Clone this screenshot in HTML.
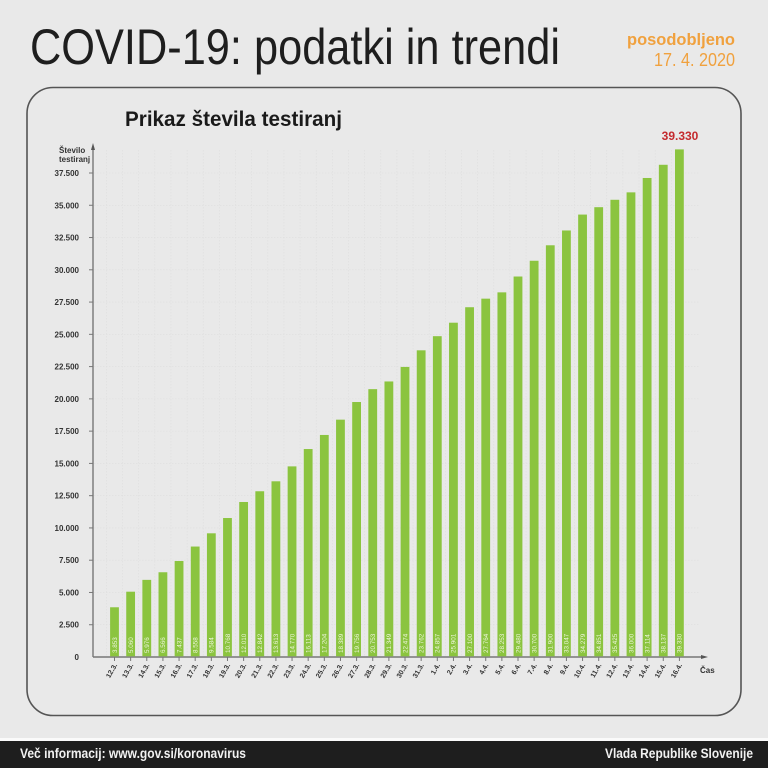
<!DOCTYPE html>
<html>
<head>
<meta charset="utf-8">
<style>
html,body{margin:0;padding:0;background:#e9e9e9;}
svg{display:block;}
text{font-family:"Liberation Sans",sans-serif;}
</style>
</head>
<body>
<svg width="768" height="768" viewBox="0 0 768 768" xmlns="http://www.w3.org/2000/svg">
<rect x="0" y="0" width="768" height="768" fill="#e9e9e9"/>
<!-- header -->
<text x="30" y="64" font-size="50" fill="#1e1e1e" textLength="530" lengthAdjust="spacingAndGlyphs">COVID-19: podatki in trendi</text>
<text x="735" y="45" font-size="17" font-weight="bold" fill="#f0a13e" text-anchor="end" textLength="108" lengthAdjust="spacingAndGlyphs">posodobljeno</text>
<text x="735" y="66" font-size="18" fill="#f0a13e" text-anchor="end" textLength="81" lengthAdjust="spacingAndGlyphs">17. 4. 2020</text>
<!-- panel -->
<rect x="27" y="87.5" width="714" height="628" rx="26" ry="26" fill="#e9e9e9" stroke="#555" stroke-width="1.6"/>
<text x="125" y="126" font-size="21" font-weight="bold" fill="#1a1a1a" textLength="217" lengthAdjust="spacingAndGlyphs">Prikaz števila testiranj</text>
<!-- grid -->
<g stroke="#dedede" stroke-width="0.6" stroke-dasharray="1.5,1.5" id="grid"></g>
<!-- axes -->
<line x1="93" y1="147" x2="93" y2="657" stroke="#777" stroke-width="1.4"/>
<polygon points="93,143 91,150 95,150" fill="#555"/>
<line x1="93" y1="657" x2="703" y2="657" stroke="#777" stroke-width="1.4"/>
<polygon points="708,657 701,655 701,659" fill="#555"/>
<text x="59" y="153" font-size="8" font-weight="bold" fill="#333">Število</text>
<text x="59" y="162" font-size="8" font-weight="bold" fill="#333">testiranj</text>
<text x="700" y="673" font-size="8" font-weight="bold" fill="#333">Čas</text>
<g id="yt" font-size="8" font-weight="bold" fill="#333" text-anchor="end"></g>
<g id="bars"></g>
<text x="680" y="140" font-size="12" font-weight="bold" fill="#c42a2e" text-anchor="middle">39.330</text>
<!-- footer -->
<rect x="0" y="738" width="768" height="3" fill="#fafafa"/>
<rect x="0" y="741" width="768" height="27" fill="#1e1e1e"/>
<text x="20" y="758" font-size="13.5" font-weight="bold" fill="#f2f2f2" textLength="226" lengthAdjust="spacingAndGlyphs">Več informacij: www.gov.si/koronavirus</text>
<text x="753" y="758" font-size="13.5" font-weight="bold" fill="#f2f2f2" text-anchor="end" textLength="148" lengthAdjust="spacingAndGlyphs">Vlada Republike Slovenije</text>
<script>
(function(){
var NS="http://www.w3.org/2000/svg";
function el(t,a,p,txt){var e=document.createElementNS(NS,t);for(var k in a)e.setAttribute(k,a[k]);if(txt!==undefined)e.textContent=txt;p.appendChild(e);return e;}
var k=484/37500, y0=657;
var grid=document.getElementById('grid');
for(var v=2500;v<=40000;v+=2500){var y=y0-v*k;if(y<145)break;el('line',{x1:94,y1:y,x2:700,y2:y},grid);}
for(var i=0;i<36;i++){var x=106.4+16.14*i;el('line',{x1:x,y1:150,x2:x,y2:656},grid);}
var yt=document.getElementById('yt');
for(var v=0;v<=37500;v+=2500){var y=y0-v*k;
 var s=v===0?"0":(Math.floor(v/1000)+"."+("00"+(v%1000)).slice(-3));
 el('text',{x:79,y:y+3},yt,s);
 if(v>0) el('line',{x1:89,y1:y,x2:93,y2:y,stroke:'#777','stroke-width':1},yt);
}
var vals=[3853,5060,5976,6566,7437,8558,9584,10768,12010,12842,13613,14770,16113,17204,18389,19756,20753,21349,22474,23762,24857,25901,27100,27764,28253,29480,30700,31900,33047,34279,34851,35425,36000,37114,38137,39330];
var dates=["12.3.","13.3.","14.3.","15.3.","16.3.","17.3.","18.3.","19.3.","20.3.","21.3.","22.3.","23.3.","24.3.","25.3.","26.3.","27.3.","28.3.","29.3.","30.3.","31.3.","1.4.","2.4.","3.4.","4.4.","5.4.","6.4.","7.4.","8.4.","9.4.","10.4.","11.4.","12.4.","13.4.","14.4.","15.4.","16.4."];
var g=document.getElementById('bars');
for(var i=0;i<36;i++){
 var cx=114.5+16.14*i, h=vals[i]*k;
 el('rect',{x:cx-4.4,y:y0-h,width:8.8,height:h-0.7,fill:'#8bc43f'},g);
 var s=Math.floor(vals[i]/1000)+"."+("00"+(vals[i]%1000)).slice(-3);
 el('text',{x:0,y:0,'font-size':6.3,fill:'#eef6dc',transform:'translate('+(cx+2.3)+',653) rotate(-90)'},g,s);
 el('line',{x1:cx,y1:657,x2:cx,y2:661,stroke:'#777','stroke-width':1},g);
 el('text',{x:0,y:0,'font-size':7,'font-weight':'bold',fill:'#333','text-anchor':'end',transform:'translate('+(cx+3)+',665) rotate(-60)'},g,dates[i]);
}
})();
</script>
</svg>
</body>
</html>
